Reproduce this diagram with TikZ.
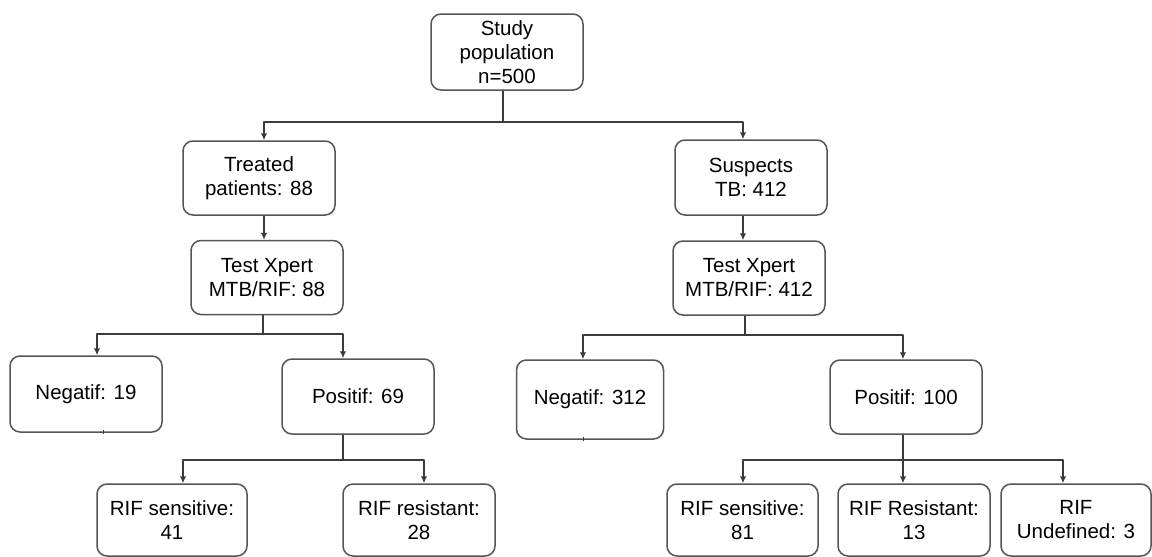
\documentclass[tikz,border=0pt]{standalone}
\usepackage{fontspec}
\setmainfont{Liberation Sans}
\usetikzlibrary{arrows.meta}
\definecolor{linegray}{HTML}{3C3C3C}
\definecolor{boxgray}{HTML}{555555}
\begin{document}
\begin{tikzpicture}[x=1pt, y=-1pt, font=\fontsize{20.5}{24}\selectfont, line join=round,
		box/.style={draw=boxgray, line width=1.5pt, rounded corners=10pt, align=center, inner sep=0pt, minimum width=152pt, minimum height=75pt},
		link/.style={draw=linegray, line width=1.6pt},
		arr/.style={link, -{Latex[length=7pt,width=6.5pt]}}]
			\useasboundingbox (0,0) rectangle (1152,557);
			% boxes
			\node[box, minimum height=76pt] (study) at (507,52) {Study\\population\\n=500};
			\node[box, minimum height=74pt] (treated) at (259,178) {Treated\\patients: 88};
			\node[box] (suspects) at (751,177.5) {Suspects\\TB: 412};
			\node[box, minimum height=74pt] (testL) at (267,277.5) {Test Xpert\\MTB/RIF: 88};
			\node[box, minimum height=74pt] (testR) at (749,278) {Test Xpert\\MTB/RIF: 412};
			\node[box, minimum height=76pt] (neg19) at (86,394) {Negatif: 19};
			\node[box] (pos69) at (358,396.5) {Positif: 69};
			\node[box, minimum width=147pt, minimum height=79pt] (neg312) at (590,399.5) {Negatif: 312};
			\node[box, minimum height=74pt] (pos100) at (906,397) {Positif: 100};
			\node[box, minimum width=150pt, minimum height=72pt] (sens41) at (172,520) {RIF sensitive:\\41};
			\node[box, minimum height=72pt] (res28) at (419,520) {RIF resistant:\\28};
			\node[box, minimum width=151pt, minimum height=72pt] (sens81) at (742.5,520) {RIF sensitive:\\81};
			\node[box, minimum height=72pt] (res13) at (914,520) {RIF Resistant:\\13};
			\node[box, minimum width=150pt, minimum height=72pt] (undef) at (1076,520) {RIF\\Undefined: 3};
			% top split
			\draw[arr] ([xshift=-4pt]study.south) -- ++(0,31) -| ([xshift=5pt]treated.north);
			\draw[arr] ([xshift=-4pt]study.south) -- ++(0,31) -| ([xshift=-8pt]suspects.north);
			\draw[arr] ([xshift=5pt]treated.south) -- ([xshift=-3pt]testL.north);
			\draw[arr] ([xshift=-8pt]suspects.south) -- ([xshift=-6pt]testR.north);
			% left branch
			\draw[arr] ([xshift=-4pt]testL.south) -- ++(0,19) -| ([xshift=11pt]neg19.north);
			\draw[arr] ([xshift=-4pt]testL.south) -- ++(0,19) -| ([xshift=-15pt]pos69.north);
			\draw[arr] ([xshift=-15pt]pos69.south) -- ++(0,25) -| ([xshift=11pt]sens41.north);
			\draw[arr] ([xshift=-15pt]pos69.south) -- ++(0,25) -| ([xshift=5pt]res28.north);
			% right branch
			\draw[arr] ([xshift=-4pt]testR.south) -- ++(0,19) -| ([xshift=-7pt]neg312.north);
			\draw[arr] ([xshift=-4pt]testR.south) -- ++(0,19) -| ([xshift=-3pt]pos100.north);
			\draw[arr] ([xshift=-3pt]pos100.south) -- ++(0,25) -| ([xshift=0.5pt]sens81.north);
			\draw[arr] ([xshift=-3pt]pos100.south) -- ([xshift=-11pt]res13.north);
			\draw[arr] ([xshift=-3pt]pos100.south) -- ++(0,25) -| ([xshift=-13pt]undef.north);
			% stubs under the negative boxes
			\draw[link, line width=1pt] ([xshift=17pt,yshift=3pt]neg19.south) -- ++(0,4);
			\draw[link, line width=1pt] ([xshift=-7pt,yshift=3pt]neg312.south) -- ++(0,4);
		\end{tikzpicture}
\end{document}
